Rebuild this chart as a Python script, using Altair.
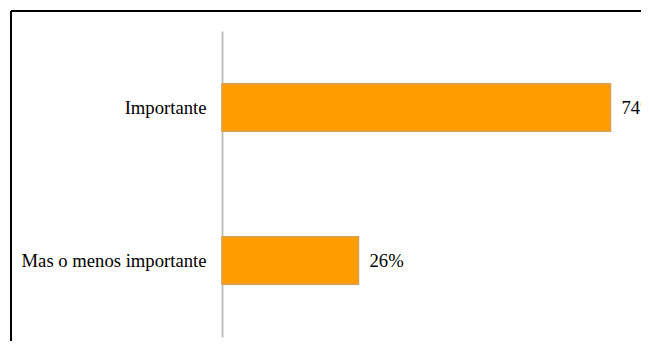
import altair as alt
import pandas as pd

categories = ["Importante", "Mas o menos importante"]
values = [74, 26]
labels = ["74%", "26%"]

df = pd.DataFrame({"cat": categories, "val": values, "lab": labels})

FONT = "Liberation Serif, Times New Roman, serif"
FS = 18.67
W = 630
H = 330

y_enc = alt.Y(
    "cat:N",
    sort=categories,
    scale=alt.Scale(range=[20, 326], paddingInner=0.69, paddingOuter=0.345),
    axis=alt.Axis(
        title=None,
        offset=-211,
        ticks=False,
        grid=False,
        domainColor="#bfbfbf",
        domainWidth=2,
        labelFont=FONT,
        labelFontSize=FS,
        labelColor="#000000",
        labelPadding=16,
        labelLimit=400,
    ),
)
x_scale = alt.Scale(domain=[0, 100], range=[211, 736])

bars = alt.Chart(df).mark_bar(
    color="#ff9c00", stroke="#d9a050", strokeWidth=1.5
).encode(
    x=alt.X("val:Q", scale=x_scale, axis=None),
    y=y_enc,
)

text = alt.Chart(df).mark_text(
    align="left", baseline="middle", dx=11, font=FONT, fontSize=FS, color="#000000"
).encode(
    x=alt.X("val:Q", scale=x_scale, axis=None),
    y=alt.Y("cat:N", sort=categories),
    text="lab:N",
)

frame_df = pd.DataFrame({"k": [0]})
top_line = alt.Chart(frame_df).mark_rule(color="#000000", strokeWidth=2).encode(
    x=alt.value(0), x2=alt.value(W), y=alt.value(0)
)
left_line = alt.Chart(frame_df).mark_rule(color="#000000", strokeWidth=2).encode(
    x=alt.value(0), y=alt.value(0), y2=alt.value(H)
)

chart = (
    alt.layer(bars, text, top_line, left_line)
    .properties(
        width=W,
        height=H,
        padding={"left": 3, "top": 3, "right": 0, "bottom": 0},
        autosize=alt.AutoSizeParams(type="none"),
        background="#ffffff",
    )
    .configure_view(stroke=None)
)

chart.save("out.html", embed_options={"renderer": "svg", "actions": False})
